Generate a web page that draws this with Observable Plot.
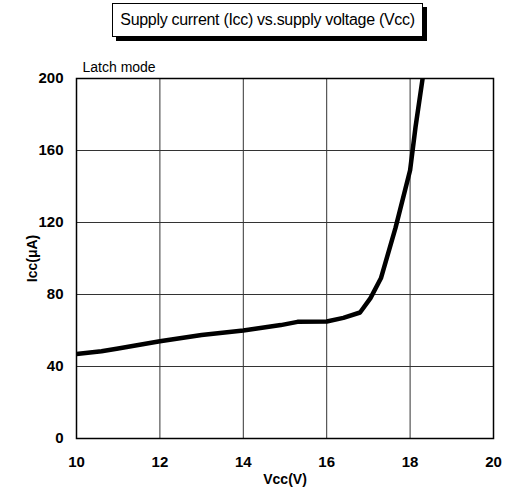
<!DOCTYPE html>
<html><head><meta charset="utf-8">
<script src="https://cdn.jsdelivr.net/npm/d3@7"></script>
<script src="https://cdn.jsdelivr.net/npm/@observablehq/plot@0.6"></script>
<style>
body{margin:0;background:#fff;font-family:"Liberation Sans",Arial,sans-serif;}
#wrap{position:relative;width:505px;height:501px;}
#title{position:absolute;left:112px;top:3px;width:309px;height:32px;border:1px solid #000;box-shadow:4px 4px 0 #000;background:#fff;font-size:16px;line-height:32px;text-align:center;color:#000;letter-spacing:-0.3px;}
</style></head>
<body><div id="wrap"><div id="title">Supply current (Icc) vs.supply voltage (Vcc)</div><div id="chart"></div></div>
<script>
const vcc = [10, 10.6, 11, 12, 13, 14, 14.9, 15.3, 16.0, 16.4, 16.8, 17.05, 17.3, 17.65, 18.0, 18.13, 18.3];
const icc = [47, 48.5, 50, 54, 57.5, 60, 63, 64.8, 65, 67, 70, 78, 89, 117, 149, 173, 200];
const xTicks = [10, 12, 14, 16, 18, 20];
const yTicks = [0, 40, 80, 120, 160, 200];
const data = vcc.map((v, i) => ({vcc: v, icc: icc[i]}));

const chart = Plot.plot({
  width: 505, height: 501,
  marginTop: 78, marginLeft: 76, marginRight: 12, marginBottom: 63,
  style: {fontFamily: '"Liberation Sans",Arial,sans-serif', background: "#fff", color: "#000"},
  x: {domain: [10, 20], ticks: xTicks, label: null},
  y: {domain: [0, 200], ticks: yTicks, label: null},
  marks: [
    Plot.gridX(xTicks, {stroke: "#333", strokeOpacity: 1, strokeWidth: 1}),
    Plot.gridY(yTicks, {stroke: "#333", strokeOpacity: 1, strokeWidth: 1}),
    Plot.frame({stroke: "#000", strokeWidth: 1.5}),
    Plot.axisX(xTicks, {tickSize: 0, tickPadding: 18, fontSize: 15, fontWeight: "bold", label: null}),
    Plot.axisY(yTicks, {tickSize: 0, tickPadding: 13, fontSize: 15, fontWeight: "bold", label: null}),
    Plot.line(data, {x: "vcc", y: "icc", stroke: "#000", strokeWidth: 4.5, clip: true, curve: "linear"}),
    Plot.text(["Latch mode"], {frameAnchor: "top-left", dx: 6, dy: -16, fontSize: 14, textAnchor: "start", fill: "#000", letterSpacing: -0.5}),
    Plot.text(["Vcc(V)"], {frameAnchor: "bottom", dy: 45, fontSize: 14, fontWeight: "bold", fill: "#000", letterSpacing: 1}),
    Plot.text(["Icc(μA)"], {frameAnchor: "left", textAnchor: "middle", dx: -44, rotate: -90, fontSize: 14, fontWeight: "bold", fill: "#000", letterSpacing: 2})
  ]
});
document.getElementById("chart").appendChild(chart);
</script></body></html>
